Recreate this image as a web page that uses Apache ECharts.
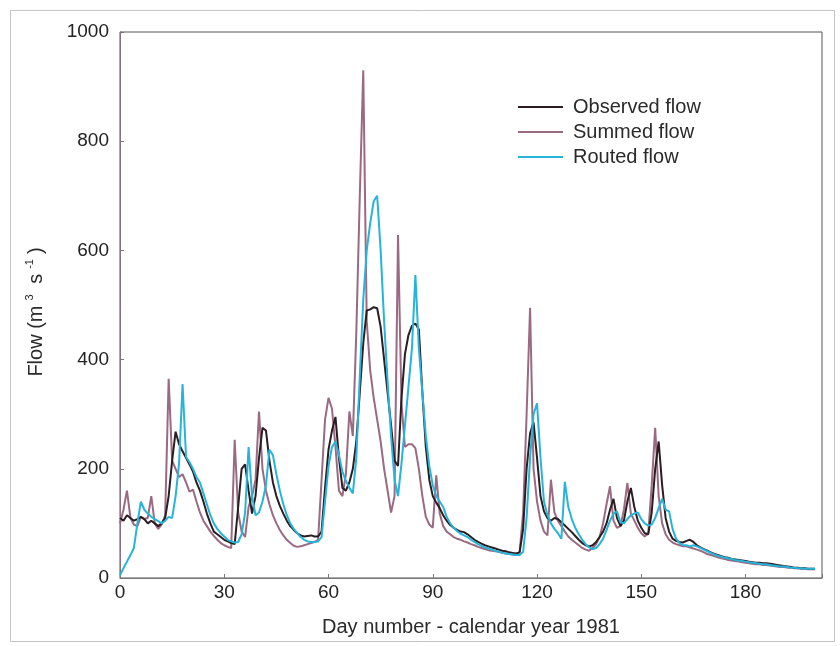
<!DOCTYPE html>
<html>
<head>
<meta charset="utf-8">
<title>Flow 1981</title>
<script src="https://cdn.jsdelivr.net/npm/echarts@6/dist/echarts.min.js"></script>
<style>
  html, body { margin: 0; padding: 0; background: #fff; }
  #chart { width: 840px; height: 646px; }
</style>
</head>
<body>
<div id="chart"></div>
<script>
// daily flows, day 0 .. 200
const observedFlow = [
  110, 105, 115, 110, 105, 108, 112, 108, 100, 105,
  100, 95, 100, 110, 150, 215, 268, 245, 232, 220,
  208, 195, 175, 160, 140, 118, 100, 85, 80, 75,
  70, 67, 64, 62, 130, 200, 208, 160, 118, 150,
  220, 275, 270, 215, 175, 150, 132, 118, 105, 95,
  88, 82, 78, 76, 77, 78, 76, 76, 85, 165,
  235, 270, 295, 220, 165, 160, 175, 200, 250, 340,
  430, 490, 492, 496, 494, 460, 400, 340, 280, 215,
  205, 330, 410, 445, 462, 466, 455, 340, 240, 180,
  150, 138, 128, 115, 105, 97, 92, 88, 85, 84,
  80, 75, 70, 66, 63, 60, 58, 56, 54, 52,
  50, 49, 47, 46, 45, 47, 90, 200, 265, 285,
  220, 150, 122, 110, 105, 110, 108, 102, 96, 90,
  84, 77, 70, 64, 60, 58, 60, 66, 75, 85,
  100, 125, 145, 110, 95, 105, 140, 165, 130, 105,
  92, 82, 80, 120, 200, 250, 170, 110, 85, 72,
  68, 66, 65, 68, 70, 66, 60, 56, 53, 50,
  47, 44, 42, 40, 38, 37, 35, 34, 33, 32,
  31, 30, 29, 28, 28, 27, 27, 26, 25, 24,
  23, 22, 21, 20, 19, 19, 18, 18, 17, 17, 17
];
const summedFlow = [
  100, 125, 160, 110, 98, 95, 112, 108, 110, 150,
  100, 90, 98, 115, 365, 215, 200, 185, 190, 175,
  158, 162, 140, 120, 105, 95, 85, 77, 70, 64,
  60, 57, 55, 253, 120, 85, 75, 130, 150, 180,
  305, 200, 160, 135, 115, 100, 88, 78, 70, 64,
  59, 57, 58, 60, 62, 64, 66, 70, 180, 290,
  330, 310, 240, 160, 150, 190, 305, 260, 450, 700,
  930, 470, 380, 330, 290, 250, 200, 160, 120, 150,
  628, 320, 240, 245, 245, 238, 200, 150, 112, 98,
  92, 188, 118, 95, 85, 80, 75, 72, 70, 67,
  65, 62, 60, 57, 55, 53, 51, 50, 49, 48,
  46, 45, 44, 43, 42, 48, 120, 300, 495, 200,
  140, 105, 85, 78, 180, 120, 105, 95, 85, 76,
  70, 65, 60, 55, 52, 50, 55, 62, 75, 100,
  135, 168, 105, 92, 95, 125, 174, 118, 105, 92,
  82, 76, 82, 170, 275, 150, 100, 80, 70, 65,
  62, 60, 58, 58, 56, 54, 52, 50, 47, 44,
  42, 40, 38, 36, 35, 33, 32, 31, 30, 29,
  28, 27, 26, 25, 25, 24, 24, 23, 22, 21,
  20, 20, 19, 19, 18, 18, 17, 17, 16, 16, 16
];
const routedFlow = [
  5, 18, 30, 42, 55, 100, 140, 125, 118, 112,
  108, 104, 100, 105, 112, 110, 150, 210, 355, 222,
  212, 200, 185, 175, 155, 135, 115, 100, 90, 82,
  76, 70, 67, 65, 66, 80, 120, 240, 150, 115,
  120, 140, 170, 235, 225, 190, 160, 135, 115, 100,
  90, 82, 75, 70, 67, 66, 66, 67, 75, 140,
  205, 240, 250, 225, 195, 178, 165, 155, 220, 370,
  510, 600, 650, 690, 700, 600, 470, 360, 260, 180,
  150, 210, 280, 350, 420, 555, 420, 340, 260, 205,
  170, 150, 140, 130, 112, 100, 92, 86, 81, 78,
  75, 70, 66, 62, 59, 56, 54, 52, 50, 48,
  46, 45, 44, 43, 42, 42, 48, 110, 220, 300,
  320, 220, 140, 115, 100, 90, 82, 72, 176, 130,
  108, 92, 80, 70, 62, 56, 53, 55, 62, 72,
  88, 105, 118, 122, 102, 100, 108, 115, 118, 120,
  108, 100, 96, 98, 110, 128, 145, 125, 122, 90,
  72, 64, 60, 60, 58, 60, 58, 55, 52, 49,
  46, 43, 41, 39, 37, 36, 35, 33, 32, 31,
  30, 29, 28, 27, 26, 25, 25, 24, 23, 22,
  21, 21, 20, 19, 19, 18, 18, 17, 17, 17, 17
];
const seriesNames = ['Observed flow', 'Summed flow', 'Routed flow'];
const seriesColors = ['#2b1d22', '#9a6a82', '#26b4d8'];

const font = '"Liberation Sans", Arial, sans-serif';
// pair each value with its day number
const toPoints = arr => arr.map((v, day) => [day, v]);

const chart = echarts.init(document.getElementById('chart'));

chart.setOption({
  backgroundColor: '#fff',
  animation: false,
  textStyle: { fontFamily: font },
  grid: {
    left: 120, right: 18, top: 32, bottom: 68,
    show: true, borderColor: '#555', borderWidth: 1
  },
  legend: {
    data: seriesNames,
    orient: 'vertical',
    left: 513, top: 92,
    icon: 'rect',
    itemWidth: 45, itemHeight: 2, itemGap: 5,
    textStyle: { fontSize: 20, color: '#2a2a2a', fontFamily: font, padding: [0, 0, 0, 5] }
  },
  xAxis: {
    type: 'value',
    min: 0, max: 202, interval: 30,
    name: 'Day number - calendar year 1981',
    nameLocation: 'middle',
    nameGap: 39,
    nameTextStyle: { fontSize: 20, color: '#2a2a2a', fontFamily: font },
    axisLine: { lineStyle: { color: '#777', width: 1 } },
    axisTick: { inside: true, length: 4, lineStyle: { color: '#777' } },
    axisLabel: {
      fontSize: 19, color: '#222', margin: 5, fontFamily: font,
      formatter: v => (v % 30 === 0 ? String(v) : '')
    },
    splitLine: { show: false }
  },
  yAxis: {
    type: 'value',
    min: 0, max: 1000, interval: 200,
    axisLine: { show: true, lineStyle: { color: '#8a6f7f', width: 1 } },
    axisTick: { show: true, inside: true, length: 4, lineStyle: { color: '#777' } },
    axisLabel: { fontSize: 19, color: '#222', margin: 11, fontFamily: font, formatter: v => String(v) },
    splitLine: { show: false }
  },
  graphic: [
    {
      type: 'rect',
      silent: true,
      shape: { x: 10.5, y: 10.5, width: 824, height: 631 },
      style: { fill: 'none', stroke: '#c4c4c4', lineWidth: 1 }
    },
    {
      type: 'text',
      x: 36, y: 312,
      rotation: Math.PI / 2,
      style: {
        text: 'Flow (m{sup|3} s{sup|-1})',
        font: '20px ' + font,
        fill: '#2a2a2a',
        align: 'center',
        verticalAlign: 'middle',
        rich: {
          sup: { fontSize: 11, fontFamily: font, fill: '#2a2a2a', verticalAlign: 'top', padding: [0, 5, 12, 5] }
        }
      }
    }
  ],
  series: [
    {
      name: seriesNames[1], type: 'line', data: toPoints(summedFlow),
      showSymbol: false, z: 2,
      itemStyle: { color: seriesColors[1] },
      lineStyle: { color: seriesColors[1], width: 2 }
    },
    {
      name: seriesNames[0], type: 'line', data: toPoints(observedFlow),
      showSymbol: false, z: 3,
      itemStyle: { color: seriesColors[0] },
      lineStyle: { color: seriesColors[0], width: 2 }
    },
    {
      name: seriesNames[2], type: 'line', data: toPoints(routedFlow),
      showSymbol: false, z: 4,
      itemStyle: { color: seriesColors[2] },
      lineStyle: { color: seriesColors[2], width: 2 }
    }
  ]
});
</script>
</body>
</html>
